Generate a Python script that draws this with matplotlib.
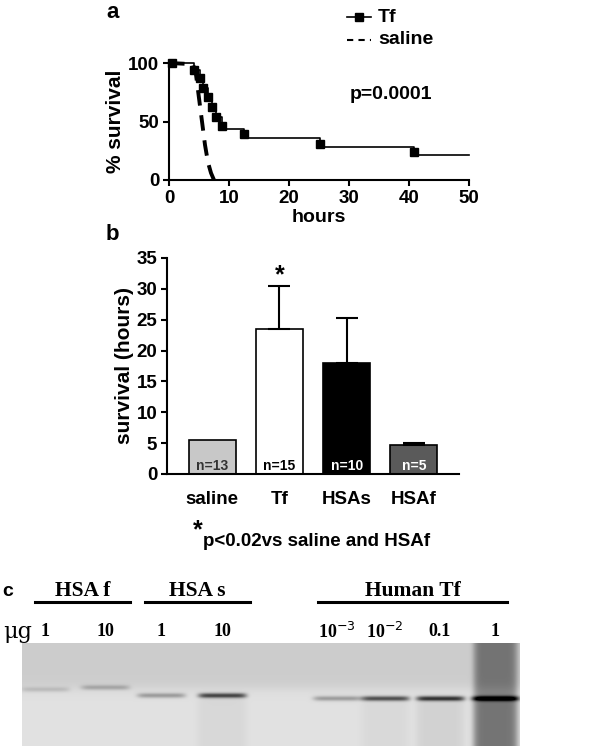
import numpy as np
import matplotlib
matplotlib.use("Agg")
import matplotlib.pyplot as plt
from matplotlib.font_manager import FontProperties

# ---- data ----
tf_times = [0.5, 4.2, 5.2, 5.6, 6.5, 7.1, 7.8, 8.9, 12.5, 25.2, 40.9, 50]
tf_levels = [100, 94, 87, 79, 71, 62, 54, 44, 36, 28, 21, 21]
tf_marker_y = [100, 94, 87, 79, 71, 62, 54, 46, 39, 31, 24]
saline_t = [0, 4, 4.5, 5, 5.5, 6, 6.5, 7, 7.5]
saline_s = [100, 99, 90, 70, 50, 30, 15, 6, 0]

groups = ["saline", "Tf", "HSAs", "HSAf"]
means = [5.5, 23.5, 18.0, 4.7]
errs = [0.0, 7.0, 7.3, 0.3]
ns = ["n=13", "n=15", "n=10", "n=5"]
bar_colors = ["#c8c8c8", "white", "black", "#5a5a5a"]
n_colors = ["#333333", "black", "white", "white"]

lane_labels = ["1", "10", "1", "10", "10$^{-3}$", "10$^{-2}$", "0.1", "1"]
lane_x = [45, 105, 161, 222, 337, 385, 440, 495]
lane_band = [0.15, 0.25, 0.35, 0.8, 0.35, 0.75, 0.9, 1.0]
lane_band_row = [46, 44, 52, 52, 55, 55, 55, 55]
group_names = ["HSA f", "HSA s", "Human Tf"]
group_lines = [(35, 130), (145, 250), (318, 507)]

W, H = 600, 746
fig = plt.figure(figsize=(6, 7.46), dpi=100)
def ax_px(l, t, r, b):
    return fig.add_axes([l / W, 1 - b / H, (r - l) / W, (b - t) / H])

sans = {"family": "Liberation Sans", "weight": "bold"}
serif = {"family": "Liberation Serif", "weight": "bold"}
TICK = FontProperties(**sans, size=13.5)

# ---- panel a ----
ax = ax_px(169, 63, 469, 180)
ax.step(tf_times, tf_levels, where="post", color="black", lw=1.2, clip_on=False)
ax.plot(tf_times[:-1], tf_marker_y, "s", color="black", ms=6, clip_on=False)
ax.plot(saline_t, saline_s, color="black", lw=2.8, ls=(0, (4, 2.5)), clip_on=False)
ax.set_xlim(0, 50); ax.set_ylim(0, 100)
ax.set_xticks([0, 10, 20, 30, 40, 50]); ax.set_yticks([0, 50, 100])
for s in ["top", "right"]:
    ax.spines[s].set_visible(False)
for s in ["left", "bottom"]:
    ax.spines[s].set_linewidth(1.5)
ax.tick_params(width=1.5, length=4, pad=3)
for lab in ax.get_xticklabels() + ax.get_yticklabels():
    lab.set_fontproperties(TICK)
ax.set_xlabel("hours", fontsize=14, labelpad=2, **sans)
ax.set_ylabel("% survival", fontsize=15, labelpad=2, **sans)
ax.text(37, 73, "p=0.0001", ha="center", va="center", fontsize=14, **sans)

fig.text(106 / W, 1 - 13 / H, "a", fontsize=16, va="center", **sans)
fig.lines.append(plt.Line2D([347 / W, 371 / W], [1 - 17 / H] * 2, color="black", lw=1.2, transform=fig.transFigure))
fig.lines.append(plt.Line2D([359 / W], [1 - 17 / H], marker="s", color="black", ms=6, transform=fig.transFigure))
fig.lines.append(plt.Line2D([347 / W, 371 / W], [1 - 40 / H] * 2, color="black", lw=1.5, ls=(0, (3, 2.5)), transform=fig.transFigure))
fig.text(378 / W, 1 - 17 / H, "Tf", fontsize=14, va="center", **sans)
fig.text(378 / W, 1 - 40 / H, "saline", fontsize=14, va="center", **sans)

# ---- panel b ----
bx = ax_px(167, 258, 459, 474)
xs = np.arange(len(groups))
bx.bar(xs, means, width=0.7, color=bar_colors, edgecolor="black", lw=1.2)
for x, m, e in zip(xs, means, errs):
    if e > 0:
        bx.errorbar([x], [m], yerr=[[0], [e]], fmt="none", ecolor="black",
                    elinewidth=1.5, capsize=8, capthick=1.5)
bx.set_xlim(-0.67, 3.67); bx.set_ylim(0, 35)
bx.set_yticks(range(0, 36, 5))
bx.set_xticks(xs); bx.set_xticklabels(groups)
for s in ["top", "right"]:
    bx.spines[s].set_visible(False)
for s in ["left", "bottom"]:
    bx.spines[s].set_linewidth(1.5)
bx.tick_params(axis="y", width=1.5, length=4, pad=3)
bx.tick_params(axis="x", length=0, pad=12)
for lab in bx.get_xticklabels() + bx.get_yticklabels():
    lab.set_fontproperties(TICK)
bx.set_ylabel("survival (hours)", fontsize=15, labelpad=2, **sans)
for x, n, c in zip(xs, ns, n_colors):
    bx.text(x, 0.2, n, ha="center", va="bottom", fontsize=10, color=c, **sans)
bx.text(1, means[1] + errs[1] - 0.3, "*", ha="center", va="bottom", fontsize=18, **sans)
fig.text(106 / W, 1 - 235 / H, "b", fontsize=16, va="center", **sans)
fig.text(193 / W, 1 - 530 / H, "*", fontsize=18, va="center", **sans)
fig.text(203 / W, 1 - 542 / H, "p<0.02vs saline and HSAf", fontsize=13.5, va="center", **sans)

# ---- panel c ----
fig.text(2 / W, 1 - 592 / H, "c", fontsize=14, va="center", **sans)
for name, (l, r) in zip(group_names, group_lines):
    fig.lines.append(plt.Line2D([l / W, r / W], [1 - 602 / H] * 2, color="black", lw=2.2, transform=fig.transFigure))
    fig.text((l + r) / 2 / W, 1 - 591 / H, name, ha="center", va="center", fontsize=15.5, **serif)
fig.text(3 / W, 1 - 632 / H, "μg", fontsize=16, va="center", family="DejaVu Serif")
for lx, lab in zip(lane_x, lane_labels):
    fig.text(lx / W, 1 - 632 / H, lab, ha="center", va="center", fontsize=13, **serif)

gx = ax_px(22, 643, 520, 746)
gw, gh = 498, 103
rows = np.arange(gh)[:, None]
cols = np.arange(gw)[None, :] + 22
img = (0.80 + 0.08 / (1 + np.exp(-(rows - 45) / 3.0))) * np.ones((gh, gw))
for lx, inten, br in zip(lane_x, lane_band, lane_band_row):
    lane = np.exp(-((cols - lx) / 24.0) ** 8)
    band = np.exp(-((rows - br) / 2.5) ** 2)
    img -= 0.75 * inten * lane * band
    if inten > 0.7:
        img -= 0.18 * (inten - 0.6) * lane * (rows > br)
lane = np.exp(-((cols - lane_x[-1]) / 22.0) ** 8)
img -= 0.35 * lane
img = np.clip(img, 0, 1)
gx.imshow(img, cmap="gray", vmin=0, vmax=1, aspect="auto", interpolation="bilinear")
gx.axis("off")

fig.savefig("out.png", dpi=100)
